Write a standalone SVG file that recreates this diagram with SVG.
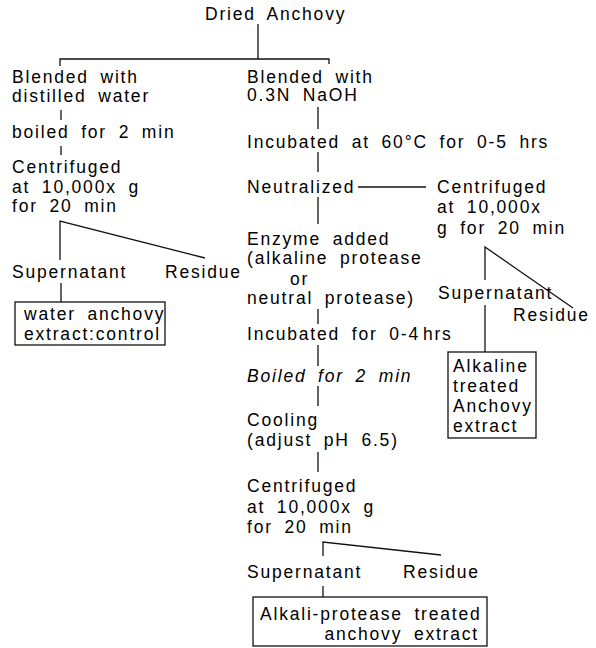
<svg xmlns="http://www.w3.org/2000/svg" width="596" height="648" viewBox="0 0 596 648">
<style>
text { font-family: "Liberation Sans", Arial, sans-serif; font-size: 17.5px; letter-spacing: 1.8px; word-spacing: 5px; fill: #000; }
.it { font-style: italic; }
.ln { stroke: #111; stroke-width: 1.3; fill: none; }
.box { stroke: #111; stroke-width: 1.3; fill: none; }
</style>
<rect width="596" height="648" fill="#fff"/>
<g id="connectors">
  <path class="ln" d="M258,24 V59 M60,66 V59 H329 V64"/>
  <path class="ln" d="M61,110 V120 M61,146 V155"/>
  <path class="ln" d="M60,260 V221 L205,258"/>
  <path class="ln" d="M61,283 V302"/>
  <path class="ln" d="M318,107 V129 M318,152 V172 M318,197 V224 M318,309 V324 M318,345 V366 M318,386 V406 M318,452 V472"/>
  <path class="ln" d="M358,187 H426"/>
  <path class="ln" d="M323,556 V542 L441,555"/>
  <path class="ln" d="M323,586 V597"/>
  <path class="ln" d="M485,280 V247 L573,308"/>
  <path class="ln" d="M485,305 V352"/>
</g>
<g id="dried"><text x="205" y="20">Dried Anchovy</text></g>
<g id="blend-water"><text x="12" y="83">Blended with</text><text x="12" y="102">distilled water</text></g>
<g id="boiled-left"><text x="12" y="138">boiled for 2 min</text></g>
<g id="centrifuge-left"><text x="12" y="173">Centrifuged</text><text x="12" y="193">at 10,000x g</text><text x="12" y="212">for 20 min</text></g>
<g id="supernatant-left"><text x="12" y="278">Supernatant</text></g>
<g id="residue-left"><text x="165" y="278">Residue</text></g>
<g id="control"><rect class="box" x="15" y="302" width="150" height="43"/><text x="24" y="320">water anchovy</text><text x="24" y="340">extract:control</text></g>
<g id="blend-naoh"><text x="247" y="83">Blended with</text><text x="247" y="101">0.3N NaOH</text></g>
<g id="incubate1"><text x="247" y="148">Incubated at 60°C for 0-5 hrs</text></g>
<g id="neutralized"><text x="247" y="193">Neutralized</text></g>
<g id="enzyme"><text x="247" y="245">Enzyme added</text><text x="247" y="264">(alkaline protease</text><text x="290" y="285">or</text><text x="247" y="304">neutral protease)</text></g>
<g id="incubate2"><text x="247" y="340">Incubated for 0-4<tspan dx="3">hrs</tspan></text></g>
<g id="boiled"><text class="it" x="247" y="382">Boiled for 2 min</text></g>
<g id="cooling"><text x="247" y="426">Cooling</text><text x="247" y="446">(adjust pH 6.5)</text></g>
<g id="centrifuge-mid"><text x="247" y="492">Centrifuged</text><text x="247" y="513">at 10,000x g</text><text x="247" y="533">for 20 min</text></g>
<g id="supernatant-mid"><text x="247" y="578">Supernatant</text></g>
<g id="residue-mid"><text x="403" y="578">Residue</text></g>
<g id="final"><rect class="box" x="253" y="597" width="234" height="49"/><text x="260" y="620">Alkali-protease treated</text><text x="479" y="640" text-anchor="end">anchovy extract</text></g>
<g id="centrifuge-right"><text x="437" y="193">Centrifuged</text><text x="437" y="213">at 10,000x</text><text x="437" y="234">g for 20 min</text></g>
<g id="supernatant-right"><text x="438" y="299">Supernatant</text></g>
<g id="residue-right"><text x="513" y="321">Residue</text></g>
<g id="alkaline"><rect class="box" x="448" y="352" width="88" height="86"/><text x="453" y="372">Alkaline</text><text x="453" y="392">treated</text><text x="453" y="412">Anchovy</text><text x="453" y="432">extract</text></g>
</svg>
